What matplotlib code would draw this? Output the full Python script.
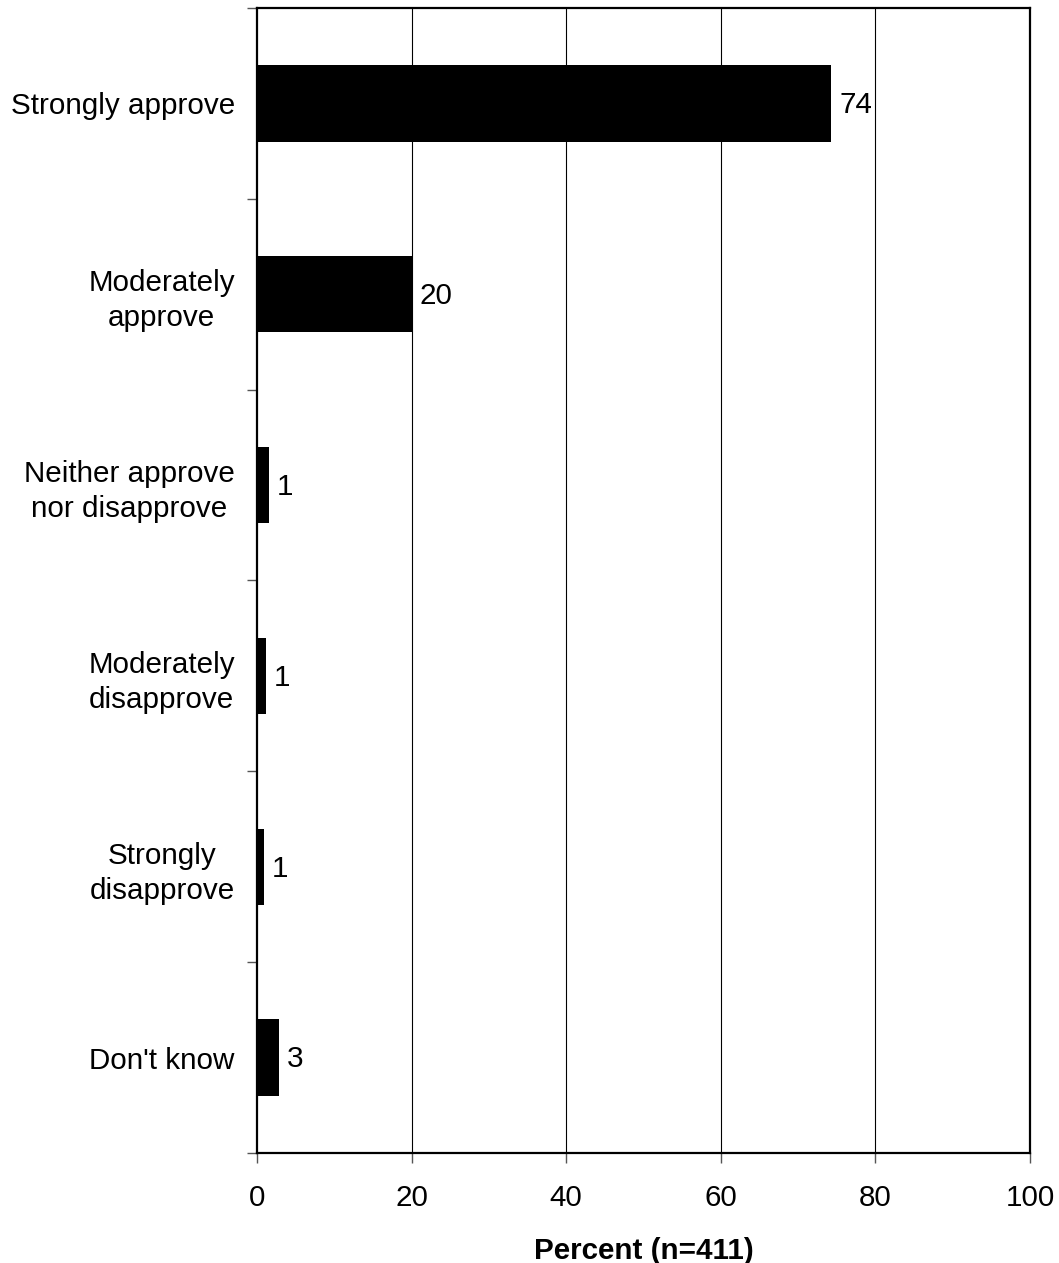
import numpy as np
import matplotlib.pyplot as plt

plt.rcParams['font.family'] = ['Liberation Sans', 'DejaVu Sans']

categories = ['Strongly approve', 'Moderately\napprove', 'Neither approve\nnor disapprove',
              'Moderately\ndisapprove', 'Strongly\ndisapprove', "Don't know"]
values = [74.3, 20.0, 1.6, 1.1, 0.9, 2.8]
labels = ['74', '20', '1', '1', '1', '3']
xticks = [0, 20, 40, 60, 80, 100]

FS = 21.3

fig = plt.figure(figsize=(10.59, 12.63), dpi=100)
ax = fig.add_axes([0.2427, 0.0871, 0.7299, 0.9066])

y = np.arange(len(categories))
ax.barh(y, values, height=0.4, color='black', zorder=3)

for yi, v, lab in zip(y, values, labels):
    ax.text(v + 1.0, yi + 0.01, lab, va='center', ha='left', fontsize=FS)

ax.set_xlim(0, 100)
ax.set_ylim(len(categories) - 0.5, -0.5)

# vertical gridlines
for xv in xticks[1:-1]:
    ax.axvline(xv, color='black', lw=0.8, zorder=1)

ax.set_xticks(xticks)
ax.set_xticklabels([str(t) for t in xticks], fontsize=FS)
ax.tick_params(axis='x', direction='out', length=7, width=1, color='#555555', pad=15)

ax.set_yticks(y)
ax.set_yticklabels(categories, fontsize=FS, multialignment='center', linespacing=1.32)
ax.tick_params(axis='y', which='major', length=0, pad=16)
ax.set_yticks(np.arange(len(categories) + 1) - 0.5, minor=True)
ax.tick_params(axis='y', which='minor', direction='out', length=7, width=1, color='#555555')

for s in ax.spines.values():
    s.set_linewidth(1.6)
    s.set_color('black')

ax.set_xlabel('Percent (n=411)', fontsize=FS, fontweight='bold', labelpad=18)

fig.savefig('out.png', dpi=100)
